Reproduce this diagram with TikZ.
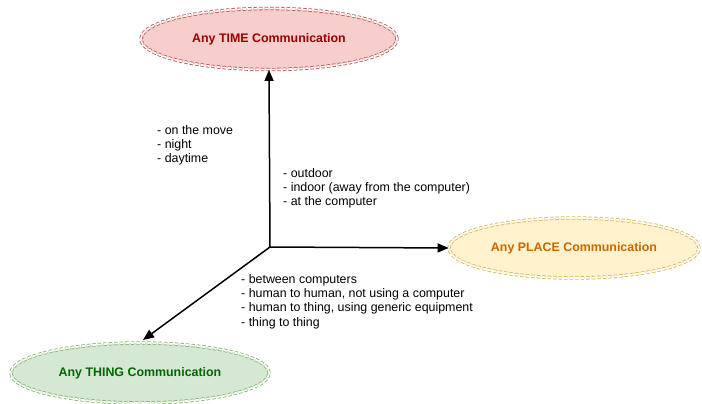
\documentclass[tikz,border=0pt]{standalone}
\usepackage{fontspec}
\setmainfont{Liberation Sans}
\usetikzlibrary{shapes.geometric,arrows.meta}
\definecolor{timefill}{HTML}{F8CECC}
\definecolor{timeline}{HTML}{B85450}
\definecolor{timetext}{HTML}{990000}
\definecolor{placefill}{HTML}{FFF2CC}
\definecolor{placeline}{HTML}{D6B656}
\definecolor{placetext}{HTML}{CC6600}
\definecolor{thingfill}{HTML}{D5E8D4}
\definecolor{thingline}{HTML}{82B366}
\definecolor{thingtext}{HTML}{006600}
\tikzset{
  comm/.style={ellipse, minimum width=#1, inner sep=0pt, double, double distance=1.8pt, dash pattern=on 3.5pt off 2pt, line width=0.8pt, font=\fontsize{12.4}{14}\selectfont\bfseries},
  note/.style={anchor=north west, align=left, inner sep=0pt, font=\fontsize{12.4}{14.3}\selectfont},
  axis/.style={-{Triangle[length=11pt,width=9pt]}, line width=1.5pt}
}
\begin{document}
\begin{tikzpicture}[x=1pt,y=-1pt]
\useasboundingbox (0,0) rectangle (702,404);
\node[comm=256pt, minimum height=61pt, draw=timeline, fill=timefill, text=timetext] (time) at (269,39) {Any TIME Communication};
\node[comm=250pt, minimum height=60pt, draw=placeline, fill=placefill, text=placetext] (place) at (574,248) {Any PLACE Communication};
\node[comm=258pt, minimum height=60pt, draw=thingline, fill=thingfill, text=thingtext] (thing) at (140,373) {Any THING Communication};
\coordinate (o) at (270,247);
\draw[axis] (o) -- (time.south);
\draw[axis] (o) -- (place.west);
\draw[axis] (o) -- (143,340);
\node[note] (n1) at (157,125) {- on the move\\- night\\- daytime};
\node[note] (n2) at (283,168) {- outdoor\\- indoor (away from the computer)\\- at the computer};
\node[note] (n3) at (241,274) {- between computers\\- human to human, not using a computer\\- human to thing, using generic equipment\\- thing to thing};
\end{tikzpicture}
\end{document}
